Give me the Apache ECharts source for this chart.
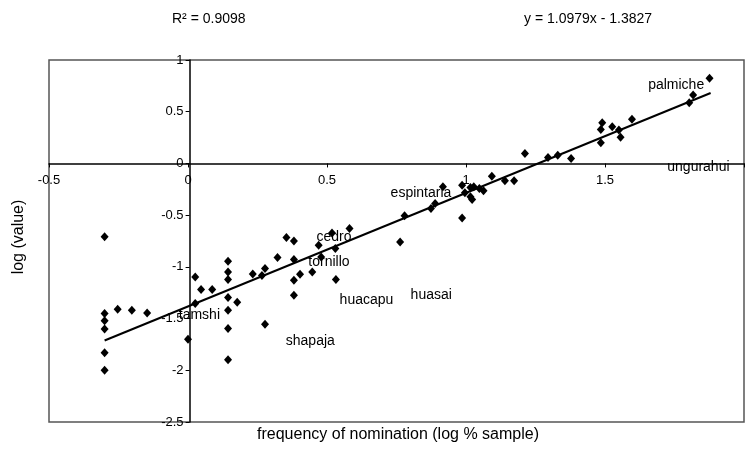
<!DOCTYPE html>
<html><head><meta charset="utf-8">
<script src="https://cdn.jsdelivr.net/npm/echarts@6/dist/echarts.min.js"></script>
<style>html,body{margin:0;padding:0;background:#fff}#c{width:747px;height:462px}</style>
</head><body><div id="c"></div>
<script>
// scatter points [log frequency, log value]
const pointsX = [-0.3,-0.3,-0.3,-0.3,-0.3,-0.3,
  -0.253,-0.202,-0.147,0.0,0.026,0.026,0.047,0.087,
  0.144,0.144,0.144,0.144,0.144,0.144,0.144,0.177,
  0.233,0.266,0.277,0.277,0.322,0.354,0.381,0.381,0.381,0.381,0.403,0.447,
  0.47,0.479,0.518,0.53,0.532,0.581,0.763,0.779,0.874,0.889,0.917,
  0.986,0.996,0.986,1.016,1.022,1.016,1.028,1.048,1.063,1.093,1.14,1.173,
  1.212,1.295,1.33,1.378,1.485,1.49,1.485,1.526,1.55,1.556,1.597,1.803,1.817,1.876];
const pointsY = [-0.71,-1.45,-1.52,-1.6,-1.83,-2.0,
  -1.41,-1.42,-1.446,-1.70,-1.098,-1.355,-1.22,-1.22,
  -0.946,-1.05,-1.123,-1.297,-1.42,-1.597,-1.897,-1.343,
  -1.07,-1.084,-1.016,-1.556,-0.91,-0.716,-0.749,-0.93,-1.13,-1.275,-1.072,-1.049,
  -0.791,-0.904,-0.672,-0.823,-1.123,-0.63,-0.759,-0.507,-0.436,-0.387,-0.226,
  -0.21,-0.284,-0.527,-0.323,-0.349,-0.232,-0.226,-0.242,-0.265,-0.123,-0.168,-0.168,
  0.097,0.058,0.08,0.048,0.2,0.393,0.329,0.354,0.322,0.252,0.426,0.587,0.661,0.823];
// trend line endpoints (y = 1.0979x - 1.3827)
const trendX = [-0.3, 1.88];
const trendY = [-1.712, 0.681];
// species annotations
const labelNames = ['palmiche','ungurahui','espintaria','cedro','tornillo','huacapu','huasai','tamshi','shapaja'];
const labelX = [1.756, 1.836, 0.838, 0.525, 0.507, 0.642, 0.875, 0.041, 0.44];
const labelY = [0.758, -0.033, -0.288, -0.713, -0.951, -1.323, -1.275, -1.469, -1.717];
const xTicks = [-0.5, 0, 0.5, 1, 1.5];
const yTicks = [1, 0.5, 0, -0.5, -1, -1.5, -2, -2.5];
const r2Text = 'R² = 0.9098';
const eqText = 'y = 1.0979x - 1.3827';
const xTitle = 'frequency of nomination (log % sample)';
const yTitle = 'log (value)';

const fmt = v => String(Math.round(v*10)/10);
const chart = echarts.init(document.getElementById('c'), null, {renderer:'canvas'});
const font = 'Liberation Sans, Arial, sans-serif';
const G = {left:49, right:-5, top:60, bottom:40};
const W = 747 - G.left - G.right, H = 462 - G.top - G.bottom;
const xMin = -0.5, xMax = 2, yMin = -2.5, yMax = 1;
// offsets to place each axis at the other's zero (axes cross at origin)
const xOff = -H * (0 - yMin) / (yMax - yMin);
const yOff = -W * (0 - xMin) / (xMax - xMin);
chart.setOption({
  animation:false,
  textStyle:{fontFamily:font},
  grid:{left:G.left,right:G.right,top:G.top,bottom:G.bottom,show:true,borderColor:'#555',borderWidth:1.5,backgroundColor:'transparent'},
  xAxis:{type:'value',min:xMin,max:xMax,interval:0.5,offset:xOff,
    axisLine:{onZero:false,lineStyle:{color:'#000',width:1.5}},
    axisTick:{show:true,inside:false,length:4,lineStyle:{color:'#000'}},
    splitLine:{show:false},
    axisLabel:{color:'#000',fontSize:13,fontFamily:font,margin:10,
      formatter:v=> xTicks.some(t=>Math.abs(t-v)<1e-6) ? fmt(v) : ''}},
  yAxis:{type:'value',min:yMin,max:yMax,interval:0.5,offset:yOff,
    axisLine:{onZero:false,lineStyle:{color:'#000',width:1.5}},
    axisTick:{show:true,inside:false,length:4,lineStyle:{color:'#000'}},
    splitLine:{show:false},
    axisLabel:{color:'#000',fontSize:13,fontFamily:font,margin:6,
      formatter:v=> yTicks.some(t=>Math.abs(t-v)<1e-6) ? fmt(v) : ''}},
  graphic:[
    {type:'text',x:172,y:12,style:{text:r2Text,fontSize:14,fontFamily:font,fill:'#000'}},
    {type:'text',x:524,y:12,style:{text:eqText,fontSize:14,fontFamily:font,fill:'#000'}},
    {type:'text',x:398,y:435,style:{text:xTitle,fontSize:16,fontFamily:font,fill:'#000',align:'center',verticalAlign:'middle'}},
    {type:'text',x:19,y:237,rotation:Math.PI/2,
      style:{text:yTitle,fontSize:16,fontFamily:font,fill:'#000',align:'center',verticalAlign:'middle'}}
  ],
  series:[
    {type:'scatter',symbol:'diamond',symbolSize:[8,9],itemStyle:{color:'#000',opacity:1},
      data:pointsX.map((x,i)=>[x,pointsY[i]]),z:3},
    {type:'line',data:trendX.map((x,i)=>[x,trendY[i]]),symbol:'none',
      lineStyle:{color:'#000',width:2},z:4},
    {type:'scatter',symbolSize:0,z:5,itemStyle:{opacity:1},
      data:labelNames.map((n,i)=>({name:n,value:[labelX[i],labelY[i]]})),
      label:{show:true,position:'inside',formatter:p=>p.name,color:'#000',opacity:1,fontSize:14,fontFamily:font,textBorderWidth:0}}
  ]
});
</script></body></html>
